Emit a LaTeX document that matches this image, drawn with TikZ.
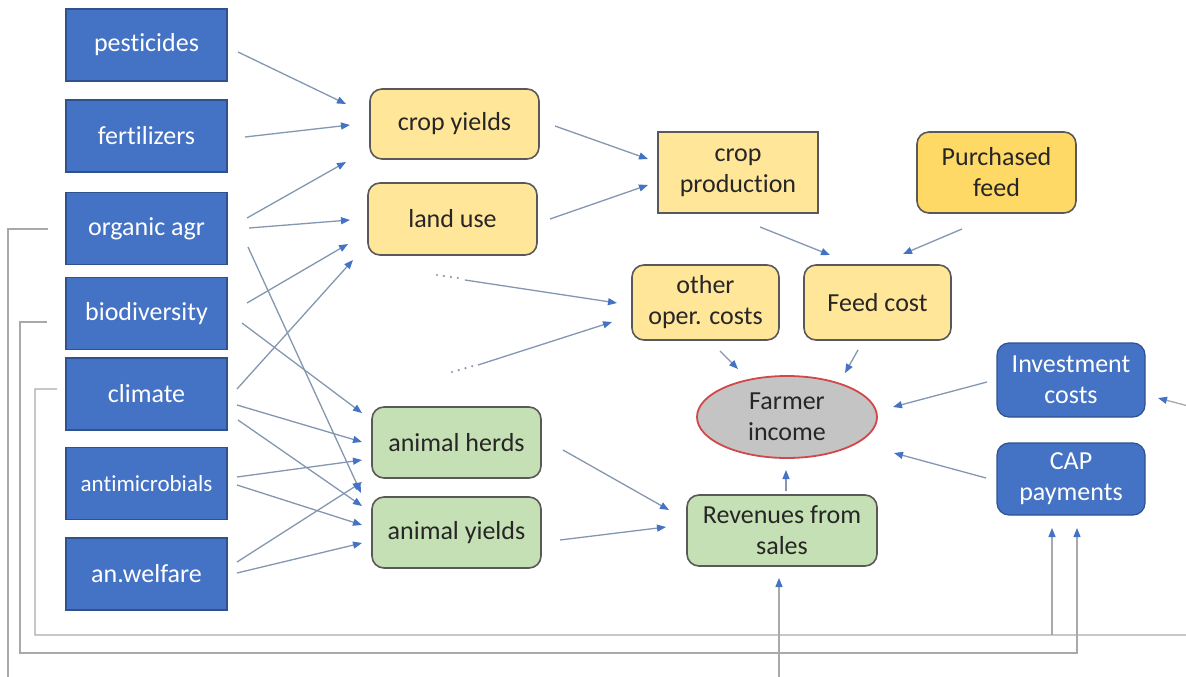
\documentclass[tikz,border=0pt]{standalone}
\usepackage{fontspec}
\setmainfont{Carlito}[Ligatures=NoCommon]
\usetikzlibrary{arrows.meta,calc,shapes.geometric}
\definecolor{bluebox}{HTML}{4472C4}
\definecolor{blueborder}{HTML}{2F528F}
\definecolor{yellowfill}{HTML}{FFE699}
\definecolor{orangefill}{HTML}{FFD966}
\definecolor{greenfill}{HTML}{C5E0B4}
\definecolor{darkborder}{HTML}{595959}
\definecolor{linec}{HTML}{8497B0}
\definecolor{tipc}{HTML}{4472C4}
\definecolor{loopc}{HTML}{A9A9A9}
\definecolor{incfill}{HTML}{C4C4C4}
\definecolor{incred}{HTML}{D0484A}
\definecolor{textdark}{HTML}{262626}
\begin{document}
\begin{tikzpicture}[x=1pt,y=-1pt,
  every node/.style={font=\fontsize{26}{31}\selectfont, inner sep=0pt, align=center},
  leftbox/.style={draw=blueborder, fill=bluebox, line width=1.2pt, text=white, minimum width=161pt, minimum height=72pt},
  rbox/.style={draw=blueborder, fill=bluebox, line width=1.2pt, text=white, rounded corners=12pt},
  ybox/.style={draw=darkborder, fill=yellowfill, line width=1.6pt, text=textdark, rounded corners=12pt},
  gbox/.style={draw=darkborder, fill=greenfill, line width=1.6pt, text=textdark, rounded corners=12pt},
  incstyle/.style={ellipse, draw=incred, fill=incfill, line width=1.8pt, text=textdark, minimum width=180pt, minimum height=82pt},
  arr/.style={draw=linec, line width=1.3pt, -{Triangle[length=9pt,width=7pt,color=tipc]}},
  loopl/.style={draw=loopc, line width=1.3pt},
  looparr/.style={draw=loopc, line width=1.3pt, -{Triangle[length=9pt,width=7pt,color=tipc]}},
  dots/.style={draw=linec, line width=2.4pt, line cap=round, dash pattern=on 0pt off 7pt}
]
\useasboundingbox[fill=white] (0,0) rectangle (1186,677);

% left column
\node[leftbox] (pest) at (146.5,45) {pesticides};
\node[leftbox] (fert) at (146.5,136) {fertilizers};
\node[leftbox] (org) at (146.5,228.5) {organic agr};
\node[leftbox] (bio) at (146.5,313.5) {biodiversity};
\node[leftbox] (clim) at (146.5,394) {climate};
\node[leftbox, font=\fontsize{23}{28}\selectfont] (anti) at (146.5,483.5) {antimicrobials};
\node[leftbox] (welf) at (146.5,574) {an.welfare};

% middle
\node[ybox, minimum width=169pt, minimum height=70pt] (cy) at (454.5,124) {crop yields};
\node[ybox, minimum width=169pt, minimum height=72pt] (lu) at (452.5,219) {land use};
\node[gbox, minimum width=169pt, minimum height=71pt] (ah) at (456.5,442.5) {animal herds};
\node[gbox, minimum width=169pt, minimum height=71pt] (ay) at (456.5,532.5) {animal yields};

% right part
\node[ybox, rounded corners=0pt, minimum width=160pt, minimum height=81pt] (cp) at (738,172.5) {crop\\production};
\node[ybox, fill=orangefill, minimum width=159pt, minimum height=81pt] (pf) at (996.5,172.5) {Purchased\\feed};
\node[ybox, minimum width=147pt, minimum height=75pt] (oc) at (705.5,302.5) {other\\oper. costs};
\node[ybox, minimum width=147pt, minimum height=75pt] (fc) at (877.5,302.5) {Feed cost};
\node[incstyle] (inc) at (787,417) {Farmer\\income};
\node[gbox, minimum width=190pt, minimum height=71pt] (rev) at (782,530.5) {Revenues from\\sales};
\node[rbox, minimum width=148pt, minimum height=74pt] (inv) at (1071,380) {Investment\\costs};
\node[rbox, minimum width=148pt, minimum height=72pt] (cap) at (1071,479) {CAP\\payments};

% free ends
\coordinate (dA1) at (437,275);
\coordinate (dA2) at (458,278);
\coordinate (dA3) at (465,280);
\coordinate (dB1) at (452,372);
\coordinate (dB2) at (473,366);
\coordinate (dB3) at (478,365);
\coordinate (bot) at (779,690);
\coordinate (rightc) at (1192,407);

% left -> middle
\draw[arr] ($(pest)+(91.5,7)$) -- ($(cy)+(-108.5,-20)$);
\draw[arr] ($(fert)+(98.5,1)$) -- ($(cy)+(-104.5,1)$);
\draw[arr] ($(org)+(100.5,-10.5)$) -- ($(cy)+(-108.5,38)$);
\draw[arr] ($(org)+(102.5,-0.5)$) -- ($(lu)+(-102.5,1)$);
\draw[arr] ($(org)+(101.5,18.5)$) -- ($(ay)+(-95.5,-39.5)$);
\draw[arr] ($(bio)+(100.5,-10.5)$) -- ($(lu)+(-104.5,25)$);
\draw[arr] ($(bio)+(95.5,9.5)$) -- ($(ah)+(-94.5,-29.5)$);
\draw[arr] ($(clim)+(90.5,-5)$) -- ($(lu)+(-99.5,41)$);
\draw[arr] ($(clim)+(90.5,11)$) -- ($(ah)+(-94.5,-0.5)$);
\draw[arr] ($(clim)+(91.5,26)$) -- ($(ay)+(-94.5,-26.5)$);
\draw[arr] ($(anti)+(90.5,-6.5)$) -- ($(ah)+(-94.5,17.5)$);
\draw[arr] ($(anti)+(90.5,1.5)$) -- ($(ay)+(-94.5,-7.5)$);
\draw[arr] ($(welf)+(90.5,-12)$) -- ($(ah)+(-94.5,39.5)$);
\draw[arr] ($(welf)+(90.5,-1)$) -- ($(ay)+(-94.5,10.5)$);

% middle -> right
\draw[arr] ($(cy)+(100.5,2)$) -- ($(cp)+(-90,-13.5)$);
\draw[arr] ($(lu)+(97.5,0)$) -- ($(cp)+(-90,12.5)$);
\draw[dots] (dA1) -- (dA2);
\draw[arr] (dA3) -- ($(oc)+(-88.5,0.5)$);
\draw[dots] (dB1) -- (dB2);
\draw[arr] (dB3) -- ($(oc)+(-93.5,19.5)$);
\draw[arr] ($(cp)+(22,54.5)$) -- ($(fc)+(-47.5,-47.5)$);
\draw[arr] ($(pf)+(-34.5,56.5)$) -- ($(fc)+(25.5,-48.5)$);
\draw[arr] ($(oc)+(14.5,48.5)$) -- ($(inc)+(-49,-48)$);
\draw[arr] ($(fc)+(-19.5,47.5)$) -- ($(inc)+(58,-44)$);
\draw[arr] ($(inv)+(-84,2)$) -- ($(inc)+(106,-10)$);
\draw[arr] ($(cap)+(-85,-1)$) -- ($(inc)+(107,36)$);
\draw[arr] ($(rev)+(4,-39.5)$) -- ($(inc)+(-1,53)$);
\draw[arr] ($(ah)+(106.5,7.5)$) -- ($(rev)+(-113,-20.5)$);
\draw[arr] ($(ay)+(103.5,7.5)$) -- ($(rev)+(-116,-3.5)$);

% feedback loops
\draw[looparr] ($(org)+(-98.5,0.5)$) -- (8,229) -- (8,690) -- (bot) -- ($(rev)+(-3,47.5)$);
\draw[looparr] ($(bio)+(-99.5,8.5)$) -- (20,322) -- (20,653) -- (1077,653) -- ($(cap)+(6,49)$);
\draw[looparr] ($(clim)+(-89.5,-5)$) -- (35,389) -- (35,635) -- (1192,635) -- (rightc) -- ($(inv)+(87,18)$);
\draw[looparr] (1052,635) -- ($(cap)+(-19,49)$);
\end{tikzpicture}
\end{document}
